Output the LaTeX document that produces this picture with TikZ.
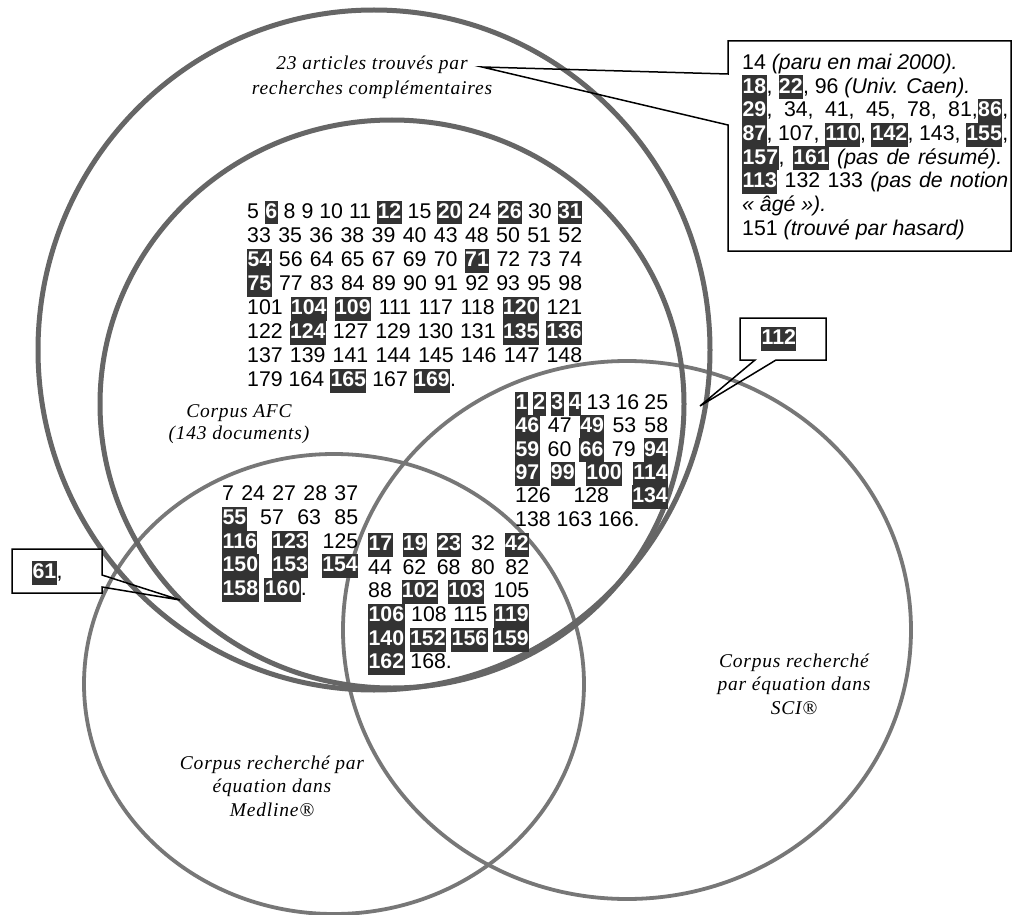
\documentclass[tikz,border=0pt]{standalone}
\usepackage{fontspec}
\setmainfont{Liberation Sans}
\newfontfamily\labfont[LetterSpace=4]{Liberation Serif}
\definecolor{hlc}{HTML}{333333}
\definecolor{ringA}{HTML}{666666}
\definecolor{ringB}{HTML}{777777}
\newcommand\hl[1]{{\setlength{\fboxsep}{0pt}\colorbox{hlc}{\rule[-6pt]{0pt}{23.8pt}\kern0.4pt\textcolor{white}{\bfseries #1}\kern0.4pt}}}
\tikzset{
  ringthick/.style={draw=ringA, line width=5pt},
  ringthin/.style={draw=ringB, line width=3.8pt},
  numrow/.style={anchor=base west, inner sep=0pt, font=\fontsize{21.3}{23.7}\selectfont},
  lab/.style={align=center, inner sep=0pt, font=\fontsize{19.5}{23.5}\selectfont\labfont\itshape},
  callout/.style={draw=black, line width=1.5pt, line join=miter},
}
\newcommand\jrow[5]{\node[numrow] (#1) at (#2,#3) {\makebox[#4pt][s]{#5}};}
\newcommand\lrow[4]{\node[numrow] (#1) at (#2,#3) {#4};}
\begin{document}
\begin{tikzpicture}[x=1pt,y=-1pt]
\fill[white] (0,0) rectangle (1013,915);
\useasboundingbox (0,0) rectangle (1013,915);
% circles
\draw[ringthin] (334,684) ellipse [x radius=250pt, y radius=230pt];
\draw[ringthin] (627,630) ellipse [x radius=284pt, y radius=269pt];
\draw[ringthick] (374,350) ellipse [x radius=336pt, y radius=340pt];
\draw[ringthick] (392,404) ellipse [x radius=292pt, y radius=284pt];
% main block (AFC)
\jrow{m1}{247}{218.5}{335}{5 \hl{6} 8 9 10 11 \hl{12} 15 \hl{20} 24 \hl{26} 30 \hl{31}}
\jrow{m2}{247}{242.5}{335}{33 35 36 38 39 40 43 48 50 51 52}
\jrow{m3}{247}{266.5}{335}{\hl{54} 56 64 65 67 69 70 \hl{71} 72 73 74}
\jrow{m4}{247}{290.5}{335}{\hl{75} 77 83 84 89 90 91 92 93 95 98}
\jrow{m5}{247}{314.5}{335}{101 \hl{104} \hl{109} 111 117 118 \hl{120} 121}
\jrow{m6}{247}{338.5}{335}{122 \hl{124} 127 129 130 131 \hl{135} \hl{136}}
\jrow{m7}{247}{362.5}{335}{137 139 141 144 145 146 147 148}
\lrow{m8}{247}{386.5}{179 164 \hl{165} 167 \hl{169}.}
% AFC and SCI
\jrow{s1}{515}{409.5}{153}{\hl{1} \hl{2} \hl{3} \hl{4} 13 16 25}
\jrow{s2}{515}{432.8}{153}{\hl{46} 47 \hl{49} 53 58}
\jrow{s3}{515}{456.1}{153}{\hl{59} 60 \hl{66} 79 \hl{94}}
\jrow{s4}{515}{479.5}{153}{\hl{97} \hl{99} \hl{100} \hl{114}}
\jrow{s5}{515}{502.8}{153}{126 128 \hl{134}}
\lrow{s6}{515}{526.1}{138 163 166.}
% AFC and Medline
\jrow{l1}{222}{500.5}{136}{7 24 27 28 37}
\jrow{l2}{222}{524.5}{136}{\hl{55} 57 63 85}
\jrow{l3}{222}{548.5}{136}{\hl{116} \hl{123} 125}
\jrow{l4}{222}{571.5}{136}{\hl{150} \hl{153} \hl{154}}
\lrow{l5}{222}{595.5}{\hl{158} \hl{160}.}
% all three
\jrow{i1}{368}{550.5}{161}{\hl{17} \hl{19} \hl{23} 32 \hl{42}}
\jrow{i2}{368}{574.5}{161}{44 62 68 80 82}
\jrow{i3}{368}{597.5}{161}{88 \hl{102} \hl{103} 105}
\jrow{i4}{368}{621.5}{161}{\hl{106} 108 115 \hl{119}}
\jrow{i5}{368}{645.5}{161}{\hl{140} \hl{152} \hl{156} \hl{159}}
\lrow{i6}{368}{668.5}{\hl{162} 168.}
% labels
\node[lab, font=\fontsize{19.5}{25}\selectfont\labfont\itshape] (labC) at (372,77.5) {23 articles trouvés par\\recherches complémentaires};
\node[lab, font=\fontsize{19.5}{22}\selectfont\labfont\itshape] (labA) at (239,424) {Corpus AFC\\(143 documents)};
\node[lab] (labS) at (794,684) {Corpus recherché\\par équation dans\\SCI®};
\node[lab] (labM) at (272,786) {Corpus recherché par\\équation dans\\Medline®};
% callout top right
\coordinate (tipA) at (482,67);
\fill[white] (728,41) rectangle (1011,251);
\draw[callout] (728,41) -- (1011,41) -- (1011,251) -- (728,251) -- (728,125) -- (tipA) -- (728,74) -- cycle;
\lrow{t1}{742}{69.5}{14 \textit{(paru en mai 2000).}}
\lrow{t2}{742}{93.2}{\hl{18}, \hl{22}, 96 \textit{(Univ. Caen).}}
\jrow{t3}{742}{116.9}{266}{\hl{29}, 34, 41, 45, 78, 81,\hl{86},}
\jrow{t4}{742}{140.6}{266}{\hl{87}, 107, \hl{110}, \hl{142}, 143, \hl{155},}
\jrow{t5}{742}{164.3}{260}{\hl{157}, \hl{161} \textit{(pas de résumé).}}
\jrow{t6}{742}{188}{266}{\hl{113} 132 133 \textit{(pas de notion}}
\lrow{t7}{742}{211.7}{\textit{« âgé »).}}
\lrow{t8}{742}{235.4}{151 \textit{(trouvé par hasard)}}
% callout 112
\coordinate (tipB) at (700,406);
\fill[white] (740,318) rectangle (826,360);
\draw[callout] (740,318) -- (826,318) -- (826,360) -- (776,360) -- (tipB) -- (755,360) -- (740,360) -- cycle;
\lrow{n112}{761}{344.5}{\hl{112}}
% callout 61
\coordinate (tipC) at (180,600);
\fill[white] (12,549) rectangle (102,593);
\draw[callout] (12,549) -- (102,549) -- (102,575) -- (tipC) -- (102,587) -- (102,593) -- (12,593) -- cycle;
\lrow{n61}{32}{578.5}{\hl{61},}
\end{tikzpicture}
\end{document}
